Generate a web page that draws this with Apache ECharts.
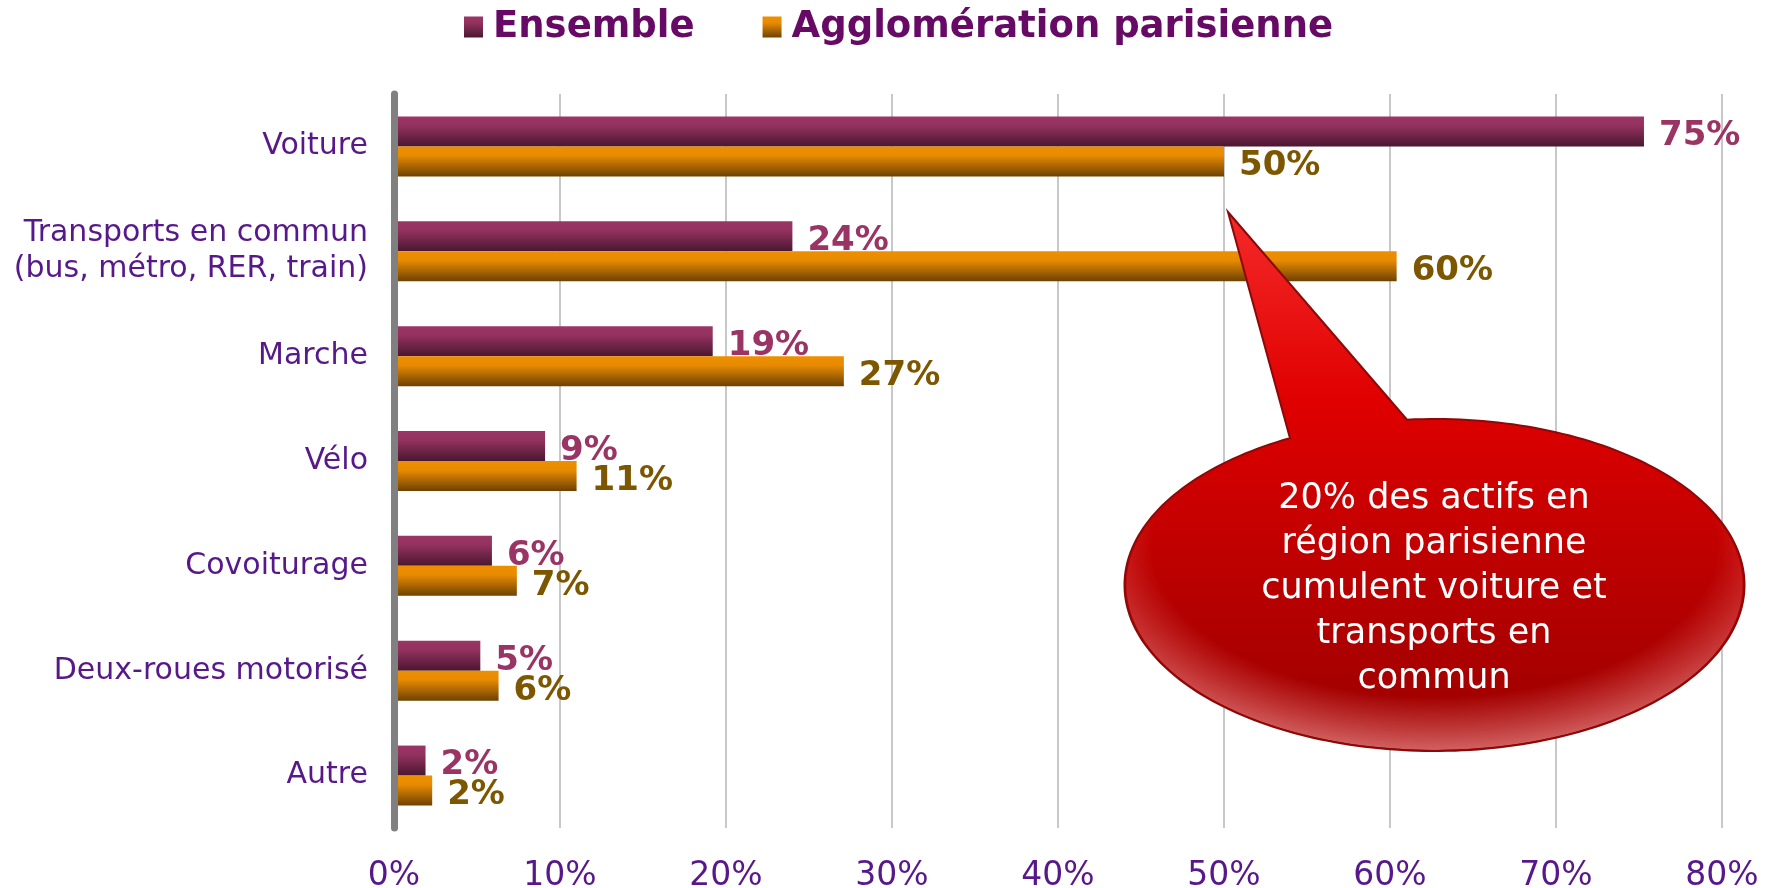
<!DOCTYPE html>
<html>
<head>
<meta charset="utf-8">
<script src="https://cdn.jsdelivr.net/npm/echarts@6/dist/echarts.min.js"></script>
<style>
html,body{margin:0;padding:0;background:#fff;}
#chart{width:1771px;height:888px;}
</style>
</head>
<body>
<div id="chart"></div>
<script>
const categories = ['Voiture', 'Transports en commun\n(bus, métro, RER, train)', 'Marche', 'Vélo', 'Covoiturage', 'Deux-roues motorisé', 'Autre'];
const ensemble = [75.3, 24.0, 19.2, 9.1, 5.9, 5.2, 1.9];
const agglo = [50.0, 60.4, 27.1, 11.0, 7.4, 6.3, 2.3];
const seriesNames = ['Ensemble', 'Agglomération parisienne'];
const xTicks = { min: 0, max: 80, interval: 10 };
const calloutText = '20% des actifs en\nrégion parisienne\ncumulent voiture et\ntransports en\ncommun';

const FONT = 'DejaVu Sans, Verdana, sans-serif';
function lin(stops) {
  return { type: 'linear', x: 0, y: 0, x2: 0, y2: 1, colorStops: stops.map(s => ({ offset: s[0], color: s[1] })) };
}
const gradEns = lin([[0, '#9b3566'], [0.3, '#93325f'], [1, '#4a1730']]);
const gradAgg = lin([[0, '#ee8f00'], [0.3, '#e88b00'], [1, '#6e4200']]);

// callout shape (ellipse with pointer) built as a polygon outline
const EC = { cx: 1434.5, cy: 585, rx: 310, ry: 166 };
function calloutPoints() {
  const b1x = 1290, b2x = 1407, tip = [1228, 212];
  const a1 = Math.atan2(-Math.sqrt(1 - Math.pow((b1x - EC.cx) / EC.rx, 2)), (b1x - EC.cx) / EC.rx);
  const a2 = Math.atan2(-Math.sqrt(1 - Math.pow((b2x - EC.cx) / EC.rx, 2)), (b2x - EC.cx) / EC.rx);
  const pts = [tip];
  let end = a1; while (end <= a2) end += Math.PI * 2;
  const n = 240;
  for (let i = 0; i <= n; i++) {
    const a = a2 + (end - a2) * i / n;
    pts.push([EC.cx + EC.rx * Math.cos(a), EC.cy + EC.ry * Math.sin(a)]);
  }
  return pts;
}
const CALLOUT_PTS = calloutPoints();

const chart = echarts.init(document.getElementById('chart'));
const option = {
  animation: false,
  backgroundColor: '#ffffff',
  legend: {
    left: 459,
    top: 3,
    itemWidth: 19,
    itemHeight: 21,
    itemGap: 68,
    icon: 'rect',
    textStyle: { fontFamily: FONT, fontSize: 37, fontWeight: 'bold', color: '#660a66', lineHeight: 38, padding: [0, 0, 0, 5] },
    data: seriesNames
  },
  grid: { left: 394, right: 49, top: 94, bottom: 60, containLabel: false, outerBoundsMode: 'none' },
  xAxis: {
    type: 'value',
    min: xTicks.min, max: xTicks.max, interval: xTicks.interval,
    axisLine: { show: false },
    axisTick: { show: false },
    splitLine: { show: true, lineStyle: { color: '#c8c8c8', width: 2 } },
    axisLabel: { formatter: '{value}%', fontFamily: FONT, fontSize: 33, color: '#57198a', margin: 32 }
  },
  yAxis: {
    type: 'category',
    inverse: true,
    data: categories,
    z: 10,
    axisLine: { show: true, lineStyle: { color: '#808080', width: 7 } },
    axisTick: { show: false },
    axisLabel: { fontFamily: FONT, fontSize: 30, color: '#57198a', margin: 26, lineHeight: 36, align: 'right', padding: [14, 0, 0, 0] }
  },
  series: [
    {
      name: seriesNames[0], type: 'bar', data: ensemble,
      barWidth: 30, barGap: '0%',
      itemStyle: { color: gradEns },
      label: { show: true, position: 'right', distance: 15, offset: [0, 5],
        formatter: p => Math.round(p.value) + '%',
        fontFamily: FONT, fontSize: 34, fontWeight: 'bold', color: '#9a3464' }
    },
    {
      name: seriesNames[1], type: 'bar', data: agglo,
      barWidth: 30, barGap: '0%',
      itemStyle: { color: gradAgg },
      label: { show: true, position: 'right', distance: 15, offset: [0, 5],
        formatter: p => Math.round(p.value) + '%',
        fontFamily: FONT, fontSize: 34, fontWeight: 'bold', color: '#7d5600' }
    }
  ],
  graphic: [
    {
      type: 'polygon', z: 100, silent: true,
      shape: { points: CALLOUT_PTS },
      style: {
        fill: lin([[0, '#f52a2a'], [0.35, '#e00000'], [0.7, '#b80000'], [1, '#9a0000']]),
        stroke: null
      }
    },
    {
      type: 'circle', z: 101, silent: true,
      x: EC.cx, y: EC.cy, scaleX: EC.rx / EC.ry,
      shape: { cx: 0, cy: 0, r: EC.ry - 1 },
      style: {
        fill: { type: 'radial', x: 0.5, y: 0.38, r: 0.62, colorStops: [
          { offset: 0, color: 'rgba(255,160,160,0)' },
          { offset: 0.74, color: 'rgba(255,160,160,0)' },
          { offset: 1, color: 'rgba(255,175,175,0.55)' }
        ] }
      }
    },
    {
      type: 'polygon', z: 102, silent: true,
      shape: { points: CALLOUT_PTS },
      style: { fill: null, stroke: '#8a0a0a', lineWidth: 2 }
    },
    {
      type: 'text', z: 103, silent: true,
      x: 1434, y: 589,
      style: {
        text: calloutText,
        fontFamily: FONT, fontSize: 35, fill: '#ffffff',
        align: 'center', verticalAlign: 'middle', lineHeight: 45
      }
    }
  ]
};
chart.setOption(option);
</script>
</body>
</html>
